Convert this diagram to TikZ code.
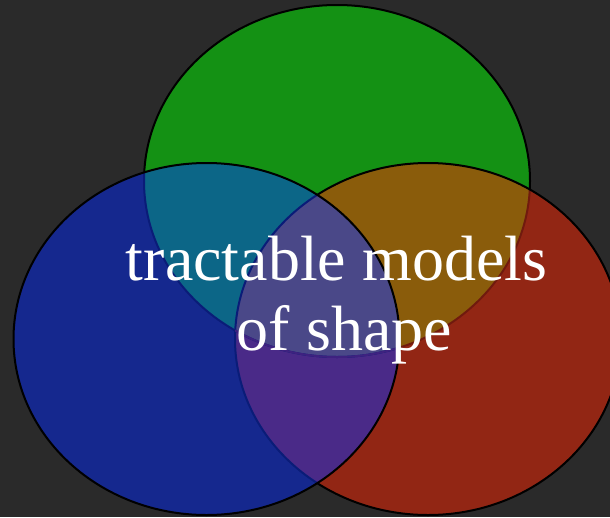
\documentclass[tikz,border=0pt]{standalone}
\usepackage{fontspec}
\setmainfont{Liberation Serif}
\definecolor{bgc}{HTML}{2A2A2A}
\definecolor{cg}{HTML}{149114}
\definecolor{cr}{HTML}{922614}
\definecolor{cb}{HTML}{15288E}
\definecolor{co}{HTML}{8A5C0B}
\definecolor{ct}{HTML}{0C6687}
\definecolor{cp}{HTML}{4A2A88}
\definecolor{cc}{HTML}{4A4888}
\definecolor{sr}{HTML}{701A0E}
\definecolor{sb}{HTML}{0A1C78}
\definecolor{sp}{HTML}{3E2280}
\tikzset{
  edge/.style={line width=2pt},
  label/.style={text=white, inner sep=0pt, anchor=base, font=\fontsize{64}{70}\selectfont}
}
\begin{document}
\begin{tikzpicture}[x=1pt,y=-1pt]
\fill[bgc] (0,0) rectangle (610,517);
\useasboundingbox (0,0) rectangle (610,517);
% green
\fill[cg] (337,181) ellipse [x radius=193, y radius=176];
\draw[edge] (337,181) ellipse [x radius=193, y radius=176];
% red
\fill[cr] (428,339) ellipse [x radius=193, y radius=176];
\begin{scope}
  \clip (337,181) ellipse [x radius=193, y radius=176];
  \fill[co] (428,339) ellipse [x radius=193, y radius=176];
\end{scope}
\begin{scope}
  \clip (428,339) ellipse [x radius=193, y radius=176];
  \draw[edge, sr] (337,181) ellipse [x radius=193, y radius=176];
\end{scope}
\draw[edge] (428,339) ellipse [x radius=193, y radius=176];
% blue
\fill[cb] (206.5,339) ellipse [x radius=193, y radius=176];
\begin{scope}
  \clip (337,181) ellipse [x radius=193, y radius=176];
  \fill[ct] (206.5,339) ellipse [x radius=193, y radius=176];
\end{scope}
\begin{scope}
  \clip (428,339) ellipse [x radius=193, y radius=176];
  \fill[cp] (206.5,339) ellipse [x radius=193, y radius=176];
\end{scope}
\begin{scope}
  \clip (337,181) ellipse [x radius=193, y radius=176];
  \clip (428,339) ellipse [x radius=193, y radius=176];
  \fill[cc] (206.5,339) ellipse [x radius=193, y radius=176];
\end{scope}
\begin{scope}
  \clip (206.5,339) ellipse [x radius=193, y radius=176];
  \draw[edge, sb] (337,181) ellipse [x radius=193, y radius=176];
  \draw[edge, sb] (428,339) ellipse [x radius=193, y radius=176];
\end{scope}
\begin{scope}
  \clip (206.5,339) ellipse [x radius=193, y radius=176];
  \clip (428,339) ellipse [x radius=193, y radius=176];
  \draw[edge, sp] (337,181) ellipse [x radius=193, y radius=176];
\end{scope}
\draw[edge] (206.5,339) ellipse [x radius=193, y radius=176];
% text
\node[label] (l1) at (336.5,280) {tractable models};
\node[label] (l2) at (344.5,350) {of shape};
\end{tikzpicture}
\end{document}
